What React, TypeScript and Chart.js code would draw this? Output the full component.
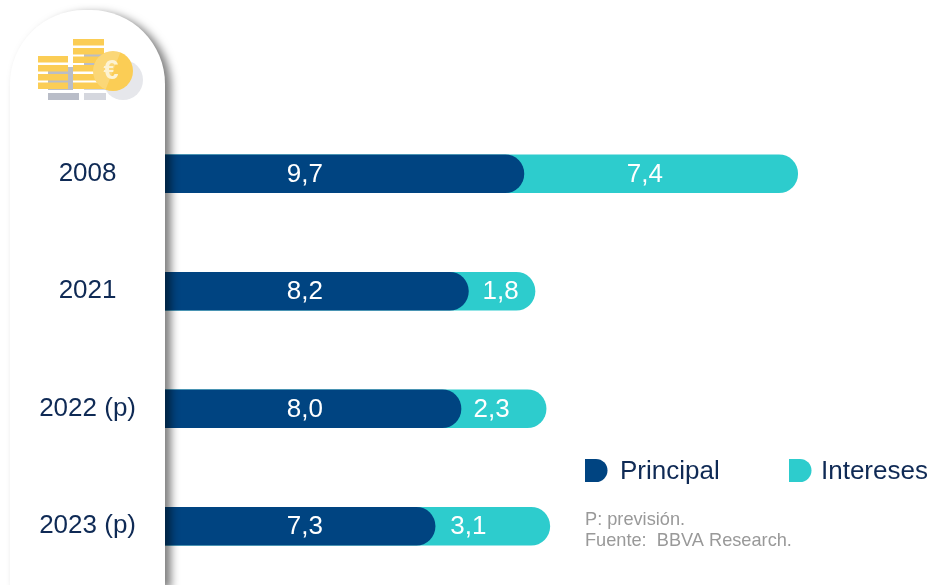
import React, { useEffect, useRef } from "react";
import { Chart, registerables } from "chart.js";

Chart.register(...registerables);

const categories = ["2008", "2021", "2022 (p)", "2023 (p)"];
const principal = [9.7, 8.2, 8.0, 7.3];
const intereses = [7.4, 1.8, 2.3, 3.1];
const seriesNames = ["Principal", "Intereses"];
const notes = ["P: previsión.", "Fuente:  BBVA Research."];

const NAVY = "#004481";
const AQUA = "#2dcccd";
const INK = "#0f2a55";
const GOLD = "#fbcd55";
const FONT = "'Liberation Sans', Arial, sans-serif";
const fmt = (v: number) => v.toFixed(1).replace(".", ",");

// horizontal nudges of the "Intereses" labels relative to their segment centre
const interestLabelNudge = [-16, -1, -12, -24];

function drawPanel(ctx: CanvasRenderingContext2D) {
  const l = 10, r = 165, t = 10, b = 586, rad = 74;
  ctx.save();
  ctx.shadowColor = "rgba(0,0,0,0.5)";
  ctx.shadowBlur = 8;
  ctx.shadowOffsetX = 6;
  ctx.shadowOffsetY = 3;
  ctx.fillStyle = "#ffffff";
  ctx.beginPath();
  ctx.moveTo(l, b);
  ctx.lineTo(l, t + rad);
  ctx.arcTo(l, t, l + rad, t, rad);
  ctx.arcTo(r, t, r, t + rad, rad);
  ctx.lineTo(r, b);
  ctx.closePath();
  ctx.fill();
  ctx.restore();
}

function drawIcon(ctx: CanvasRenderingContext2D) {
  ctx.save();
  ctx.fillStyle = "#e6e7eb";
  ctx.beginPath();
  ctx.arc(123, 80, 20, 0, Math.PI * 2);
  ctx.fill();
  ctx.fillStyle = "#b9bdc8";
  ctx.fillRect(48, 93, 31, 7);
  ctx.fillRect(48, 67, 25, 23);
  ctx.fillRect(84, 54, 22, 12);
  ctx.fillStyle = "#d5d7de";
  ctx.fillRect(84, 93, 22, 7);
  ctx.fillRect(84, 84, 22, 6);
  ctx.fillStyle = GOLD;
  [56, 65, 74, 82.5].forEach((y) => ctx.fillRect(38, y, 30, 6.5));
  [39, 48, 56.5, 65, 74, 82.5].forEach((y) => ctx.fillRect(73, y, 31, 6.5));
  ctx.beginPath();
  ctx.arc(113, 71, 20, 0, Math.PI * 2);
  ctx.fill();
  ctx.fillStyle = "rgba(255,255,255,0.2)";
  ctx.beginPath();
  ctx.arc(113, 71, 20, Math.PI * 0.62, Math.PI * 1.62);
  ctx.closePath();
  ctx.fill();
  ctx.fillStyle = "#fdf3d3";
  ctx.font = `bold 27px ${FONT}`;
  ctx.textAlign = "center";
  ctx.textBaseline = "middle";
  ctx.fillText("€", 111, 72);
  ctx.restore();
}

const decorPlugin = {
  id: "decor",
  afterDatasetsDraw(chart: any) {
    const { ctx, scales } = chart;
    const x = scales.x;
    const y = scales.y;

    drawPanel(ctx);
    drawIcon(ctx);

    ctx.save();
    ctx.font = `26px ${FONT}`;
    ctx.textBaseline = "middle";
    ctx.textAlign = "center";
    ctx.fillStyle = "#ffffff";
    categories.forEach((_, i) => {
      const py = y.getPixelForValue(i) + 1;
      ctx.fillText(fmt(principal[i]), x.getPixelForValue(3.78), py);
      const cx = x.getPixelForValue(principal[i] + intereses[i] / 2);
      ctx.fillText(fmt(intereses[i]), cx + interestLabelNudge[i], py);
    });

    // legend
    const swatch = (sx: number, color: string) => {
      ctx.fillStyle = color;
      ctx.beginPath();
      ctx.moveTo(sx, 459);
      ctx.lineTo(sx + 11, 459);
      ctx.arc(sx + 11, 470.5, 11.5, -Math.PI / 2, Math.PI / 2);
      ctx.lineTo(sx, 482);
      ctx.closePath();
      ctx.fill();
    };
    swatch(585, NAVY);
    swatch(789, AQUA);
    ctx.textAlign = "left";
    ctx.fillStyle = INK;
    ctx.fillText(seriesNames[0], 620, 472);
    ctx.fillText(seriesNames[1], 821, 472);

    // notes
    ctx.font = `18.2px ${FONT}`;
    ctx.fillStyle = "#999999";
    ctx.fillText(notes[0], 585, 520);
    ctx.fillText(notes[1], 585, 541);
    ctx.restore();
  },
};

export default function App() {
  const ref = useRef<HTMLCanvasElement>(null);

  useEffect(() => {
    document.body.style.margin = "0";
    document.body.style.background = "#ffffff";
    const chart = new Chart(ref.current as HTMLCanvasElement, {
      type: "bar",
      data: {
        labels: categories,
        datasets: [
          {
            label: seriesNames[0],
            data: principal,
            backgroundColor: NAVY,
            barThickness: 38,
            borderSkipped: false,
            borderRadius: { topLeft: 0, bottomLeft: 0, topRight: 19, bottomRight: 19 },
            order: 1,
            grouped: false,
          },
          {
            label: seriesNames[1],
            // drawn behind Principal so its rounded end sits on the aqua segment
            data: intereses.map((v, i) => [0, principal[i] + v]),
            backgroundColor: AQUA,
            barThickness: 38,
            borderSkipped: false,
            borderRadius: { topLeft: 0, bottomLeft: 0, topRight: 19, bottomRight: 19 },
            order: 2,
            grouped: false,
          },
        ] as any,
      },
      options: {
        indexAxis: "y",
        responsive: false,
        animation: false,
        layout: { padding: { top: 115, right: 0, bottom: 0, left: 0 } },
        plugins: { legend: { display: false }, tooltip: { enabled: false } },
        scales: {
          x: { display: false, min: 0, max: 20.73 },
          y: {
            afterFit(scale: any) {
              scale.width = 165;
              scale.paddingTop = 0;
              scale.paddingBottom = 0;
            },
            grid: { display: false, drawTicks: false },
            border: { display: false },
            ticks: {
              z: 1,
              crossAlign: "center",
              padding: 29,
              color: INK,
              font: { family: FONT, size: 26 },
            },
          },
        },
      } as any,
      plugins: [decorPlugin],
    });
    return () => chart.destroy();
  }, []);

  return <canvas ref={ref} width={932} height={585} style={{ display: "block" }} />;
}
